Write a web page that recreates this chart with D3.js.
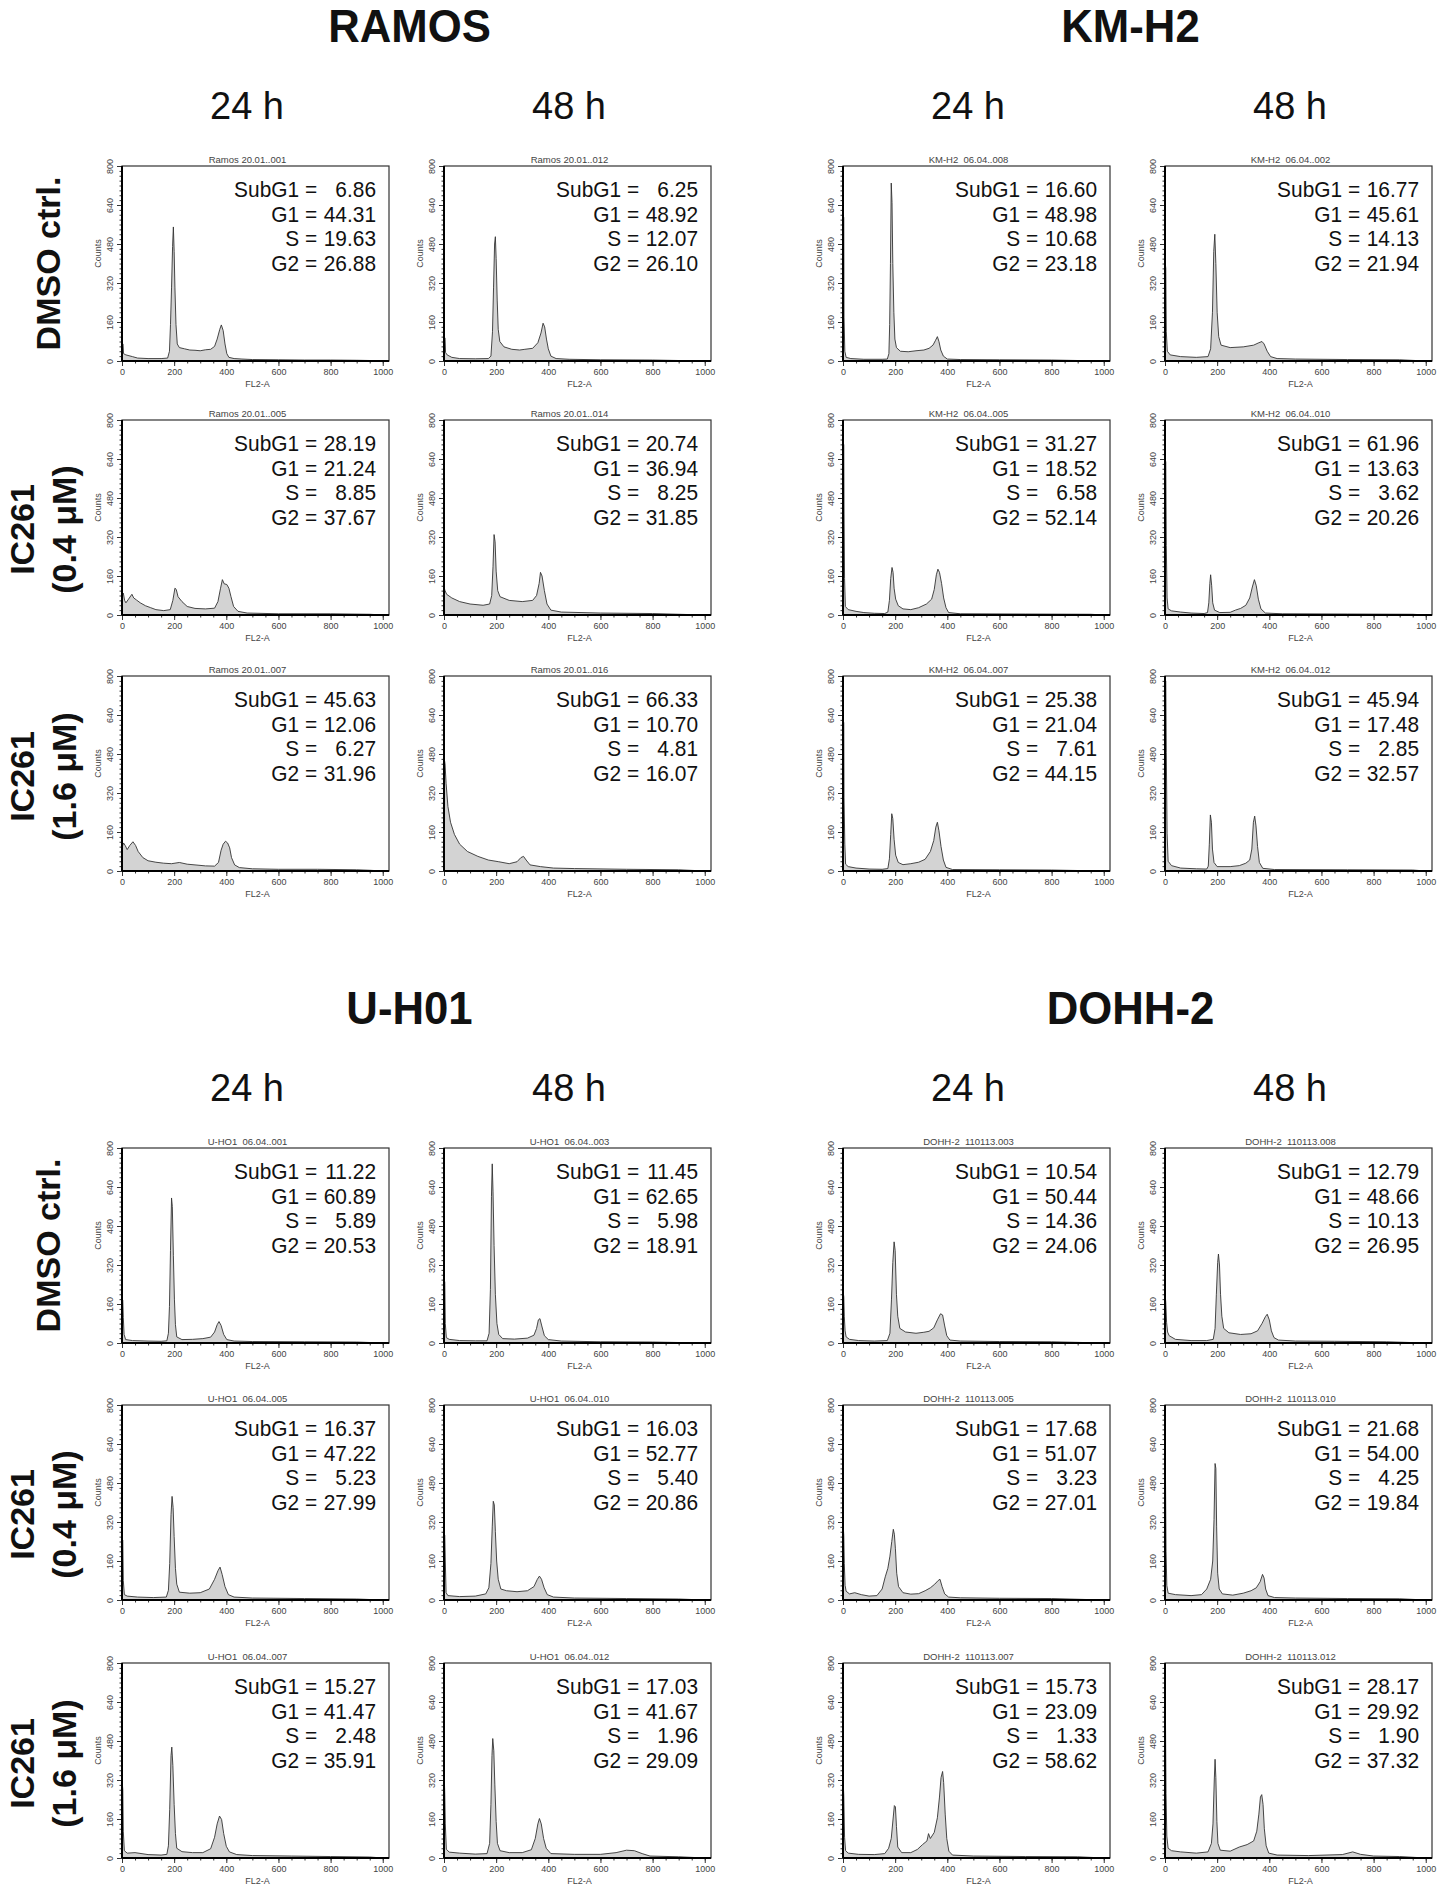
<!DOCTYPE html>
<html>
<head>
<meta charset="utf-8">
<script src="https://cdnjs.cloudflare.com/ajax/libs/d3/7.8.5/d3.min.js"></script>
<style>
  body { margin: 0; background: #fff; }
  text { font-family: "Liberation Sans", Arial, sans-serif; }
</style>
</head>
<body>
<div id="chart"></div>
<script>
// ---- categories / labels ----
const cellLines = ["RAMOS", "KM-H2", "U-H01", "DOHH-2"];
const timePoints = ["24 h", "48 h"];
const treatments = [["DMSO ctrl."], ["IC261", "(0.4 μM)"], ["IC261", "(1.6 μM)"]];
const phaseNames = ["SubG1 =", "G1 =", "S =", "G2 ="];
const xTicks = [0, 200, 400, 600, 800, 1000];
const yTicks = [0, 160, 320, 480, 640, 800];

// sample file names [row][time]
const ramosNames = [["Ramos 20.01..001", "Ramos 20.01..012"], ["Ramos 20.01..005", "Ramos 20.01..014"], ["Ramos 20.01..007", "Ramos 20.01..016"]];
const kmh2Names = [["KM-H2  06.04..008", "KM-H2  06.04..002"], ["KM-H2  06.04..005", "KM-H2  06.04..010"], ["KM-H2  06.04..007", "KM-H2  06.04..012"]];
const uho1Names = [["U-HO1  06.04..001", "U-HO1  06.04..003"], ["U-HO1  06.04..005", "U-HO1  06.04..010"], ["U-HO1  06.04..007", "U-HO1  06.04..012"]];
const dohhNames = [["DOHH-2  110113.003", "DOHH-2  110113.008"], ["DOHH-2  110113.005", "DOHH-2  110113.010"], ["DOHH-2  110113.007", "DOHH-2  110113.012"]];

// phase percentages [row][time] -> SubG1, G1, S, G2
const ramosPhases = [[[6.86, 44.31, 19.63, 26.88], [6.25, 48.92, 12.07, 26.10]],
                     [[28.19, 21.24, 8.85, 37.67], [20.74, 36.94, 8.25, 31.85]],
                     [[45.63, 12.06, 6.27, 31.96], [66.33, 10.70, 4.81, 16.07]]];
const kmh2Phases = [[[16.60, 48.98, 10.68, 23.18], [16.77, 45.61, 14.13, 21.94]],
                    [[31.27, 18.52, 6.58, 52.14], [61.96, 13.63, 3.62, 20.26]],
                    [[25.38, 21.04, 7.61, 44.15], [45.94, 17.48, 2.85, 32.57]]];
const uho1Phases = [[[11.22, 60.89, 5.89, 20.53], [11.45, 62.65, 5.98, 18.91]],
                    [[16.37, 47.22, 5.23, 27.99], [16.03, 52.77, 5.40, 20.86]],
                    [[15.27, 41.47, 2.48, 35.91], [17.03, 41.67, 1.96, 29.09]]];
const dohhPhases = [[[10.54, 50.44, 14.36, 24.06], [12.79, 48.66, 10.13, 26.95]],
                    [[17.68, 51.07, 3.23, 27.01], [21.68, 54.00, 4.25, 19.84]],
                    [[15.73, 23.09, 1.33, 58.62], [28.17, 29.92, 1.90, 37.32]]];

// ---- histograms: [FL2-A channel, counts] ----
const ramosDmso24 = [[0,0],[1,70],[4,70],[6,30],[15,25],[40,18],[60,12],[100,10],[150,10],[175,12],[182,40],[186,150],[190,300],[194,470],[197,550],[200,450],[203,300],[207,150],[212,70],[220,55],[240,50],[260,45],[280,44],[300,42],[320,46],[340,48],[355,60],[365,90],[375,130],[381,148],[388,125],[395,70],[402,30],[410,15],[430,10],[460,8],[500,6],[600,5],[700,4],[800,4],[900,3],[950,2],[1000,0]];
const ramosDmso48 = [[0,0],[1,95],[4,95],[6,35],[12,25],[30,15],[60,10],[120,9],[170,10],[180,20],[186,120],[190,300],[194,480],[197,510],[200,420],[204,250],[208,130],[214,80],[230,58],[260,48],[290,45],[310,48],[340,52],[360,75],[372,115],[380,155],[386,140],[393,90],[400,50],[410,20],[430,10],[480,7],[600,5],[800,4],[1000,0]];
const ramosLow24 = [[0,0],[1,85],[5,90],[10,60],[15,50],[25,65],[38,85],[45,70],[55,62],[70,50],[90,38],[110,30],[130,22],[160,18],[185,22],[195,60],[203,110],[208,105],[215,75],[230,55],[250,35],[280,27],[320,25],[355,28],[368,55],[378,110],[385,145],[392,128],[402,125],[410,110],[418,75],[428,35],[445,15],[480,8],[600,5],[800,5],[950,3],[1000,0]];
const ramosLow48 = [[0,0],[1,110],[4,100],[10,85],[30,70],[60,55],[100,45],[150,40],[175,45],[183,80],[188,200],[192,330],[196,300],[200,180],[206,100],[215,75],[250,60],[300,55],[340,60],[355,80],[365,130],[370,175],[376,160],[385,100],[395,45],[410,20],[450,12],[600,8],[800,6],[1000,0]];
const ramosHigh24 = [[0,0],[1,100],[6,115],[12,105],[20,88],[30,105],[42,120],[52,105],[62,80],[80,55],[100,42],[130,36],[160,32],[190,30],[220,35],[250,28],[280,25],[320,21],[355,20],[370,35],[380,85],[388,110],[397,122],[405,115],[413,95],[420,55],[432,25],[450,14],[500,9],[600,7],[750,7],[900,5],[950,3],[1000,0]];
const ramosHigh48 = [[0,0],[1,460],[4,440],[8,360],[15,265],[25,200],[40,150],[60,110],[90,80],[130,60],[170,45],[210,38],[250,30],[280,38],[295,55],[305,60],[315,45],[330,25],[370,18],[420,12],[500,10],[700,7],[900,5],[1000,0]];

const kmh2Dmso24 = [[0,0],[1,590],[3,590],[4,180],[7,40],[12,15],[30,10],[80,7],[150,7],[170,8],[176,30],[179,150],[182,400],[185,730],[188,650],[191,400],[195,200],[199,90],[205,55],[220,40],[250,38],[280,42],[310,45],[330,52],[345,65],[355,85],[362,100],[368,80],[375,45],[385,20],[400,8],[450,6],[600,5],[800,4],[1000,0]];
const kmh2Dmso48 = [[0,0],[1,400],[3,380],[5,120],[9,40],[20,25],[60,18],[120,15],[165,18],[175,50],[182,200],[187,450],[191,520],[195,400],[200,200],[206,100],[215,65],[250,55],[300,58],[340,65],[360,75],[372,80],[380,70],[392,40],[405,18],[430,10],[500,8],[700,6],[900,5],[1000,0]];
const kmh2Low24 = [[0,0],[1,700],[3,700],[4,435],[6,150],[9,35],[20,22],[50,15],[80,10],[120,7],[160,6],[172,12],[178,60],[183,150],[188,195],[192,175],[196,110],[202,65],[212,38],[230,25],[260,22],[290,30],[320,45],[340,65],[350,105],[358,165],[364,188],[370,175],[378,130],[386,70],[395,30],[405,10],[450,5],[700,4],[950,3],[1000,0]];
const kmh2Low48 = [[0,0],[1,630],[3,630],[5,285],[8,70],[12,25],[25,17],[60,12],[100,8],[150,6],[163,10],[168,50],[172,130],[175,165],[179,120],[183,50],[190,20],[210,10],[250,11],[270,20],[290,27],[310,40],[325,70],[335,115],[343,145],[350,120],[358,65],[368,25],[385,8],[450,5],[700,4],[950,3],[1000,0]];
const kmh2High24 = [[0,0],[1,610],[3,610],[4,300],[7,110],[10,28],[20,18],[50,12],[100,8],[150,7],[172,10],[178,50],[183,150],[187,235],[191,215],[196,130],[202,65],[212,35],[230,26],[260,30],[290,36],[315,48],[335,80],[348,125],[356,180],[362,200],[368,165],[376,100],[385,45],[395,15],[420,6],[600,5],[800,4],[1000,0]];
const kmh2High48 = [[0,0],[1,780],[3,780],[5,485],[8,155],[12,40],[25,22],[60,12],[120,9],[160,8],[166,20],[170,110],[174,230],[178,200],[182,90],[188,35],[200,18],[250,18],[285,22],[310,32],[325,45],[333,90],[339,200],[344,225],[349,185],[355,100],[362,35],[375,11],[420,6],[700,5],[950,4],[1000,0]];

const uho1Dmso24 = [[0,0],[1,180],[3,175],[5,105],[8,35],[14,14],[40,10],[100,8],[150,7],[172,9],[178,40],[182,150],[186,380],[190,595],[193,560],[197,360],[201,180],[205,75],[210,25],[230,14],[270,15],[310,18],[340,24],[355,45],[365,75],[372,88],[380,72],[390,35],[402,14],[430,8],[500,6],[700,5],[900,4],[1000,0]];
const uho1Dmso48 = [[0,0],[1,257],[3,250],[5,80],[9,22],[20,15],[60,10],[120,9],[165,9],[173,40],[178,220],[182,600],[185,735],[188,620],[192,400],[197,200],[203,80],[210,35],[225,18],[270,16],[320,20],[345,32],[355,60],[362,95],[368,100],[375,70],[385,30],[400,14],[450,8],[600,5],[800,4],[1000,0]];
const uho1Low24 = [[0,0],[1,250],[3,245],[5,80],[9,22],[20,16],[60,12],[120,10],[170,12],[178,40],[183,150],[188,350],[192,425],[196,380],[200,260],[205,130],[210,65],[220,32],[260,28],[300,30],[335,45],[355,85],[368,120],[376,135],[384,105],[395,55],[408,22],[430,12],[500,8],[700,6],[900,4],[1000,0]];
const uho1Low48 = [[0,0],[1,270],[3,265],[5,160],[8,30],[15,18],[60,14],[120,16],[160,25],[172,50],[180,150],[185,300],[189,405],[193,390],[197,280],[202,160],[208,85],[218,45],[240,38],[280,34],[320,38],[345,55],[358,85],[366,98],[374,85],[384,50],[396,22],[420,12],[500,8],[700,6],[900,4],[1000,0]];
const uho1High24 = [[0,0],[1,310],[3,280],[5,110],[9,30],[20,20],[50,22],[100,14],[150,12],[172,15],[178,50],[183,200],[188,420],[191,455],[195,380],[200,220],[205,100],[210,40],[230,26],[270,22],[310,22],[340,38],[355,85],[365,140],[374,172],[382,158],[390,100],[400,48],[412,25],[440,14],[500,10],[650,8],[800,6],[950,4],[1000,0]];
const uho1High48 = [[0,0],[1,335],[3,260],[5,140],[9,36],[20,24],[60,20],[120,16],[165,18],[175,60],[180,220],[184,420],[187,490],[191,440],[195,300],[200,150],[205,60],[215,30],[250,22],[300,22],[335,34],[350,80],[360,140],[366,162],[373,140],[382,80],[392,40],[410,18],[500,15],[600,15],[660,22],[700,32],[730,30],[760,18],[790,8],[900,5],[1000,0]];

const dohhDmso24 = [[0,0],[1,205],[3,190],[5,110],[8,50],[12,25],[25,15],[60,10],[120,8],[170,10],[180,40],[186,180],[191,330],[196,415],[200,380],[205,200],[210,110],[218,60],[240,45],[280,40],[310,44],[330,48],[348,62],[362,95],[374,120],[382,115],[390,70],[398,30],[410,12],[450,8],[600,6],[800,5],[1000,0]];
const dohhDmso48 = [[0,0],[1,195],[3,165],[6,85],[10,45],[16,30],[40,15],[100,10],[160,10],[185,15],[192,60],[197,200],[202,330],[205,365],[209,320],[213,200],[218,110],[225,60],[245,42],[290,35],[330,38],[355,50],[372,80],[385,108],[392,118],[400,95],[408,50],[418,22],[435,12],[500,8],[650,7],[850,5],[1000,0]];
const dohhLow24 = [[0,0],[1,300],[3,265],[5,150],[8,60],[12,36],[25,25],[45,30],[70,22],[100,16],[130,18],[150,45],[162,95],[172,130],[180,180],[187,240],[193,290],[197,270],[201,210],[206,110],[213,55],[230,30],[260,24],[290,26],[315,38],[335,50],[352,65],[365,80],[372,85],[380,55],[390,25],[405,12],[450,9],[600,7],[800,6],[1000,0]];
const dohhLow48 = [[0,0],[1,630],[2,490],[4,200],[7,60],[12,28],[40,22],[100,18],[140,22],[160,45],[175,85],[183,160],[188,330],[192,560],[195,540],[198,300],[202,110],[208,45],[220,25],[260,20],[300,28],[330,38],[350,50],[365,75],[374,105],[380,90],[386,45],[395,18],[420,10],[500,8],[700,6],[900,5],[1000,0]];
const dohhHigh24 = [[0,0],[1,305],[3,255],[6,85],[10,30],[20,20],[60,15],[120,14],[160,18],[175,40],[185,80],[192,160],[197,215],[201,210],[205,130],[210,45],[225,22],[260,22],[285,35],[305,55],[322,70],[328,100],[335,80],[350,105],[362,165],[370,250],[376,330],[382,355],[386,310],[392,180],[398,80],[406,28],[420,12],[500,8],[700,6],[900,5],[1000,0]];
const dohhHigh48 = [[0,0],[1,765],[2,540],[4,265],[7,90],[12,40],[25,30],[60,25],[120,20],[165,25],[178,60],[184,140],[189,320],[192,405],[195,330],[199,150],[203,60],[212,32],[250,28],[285,45],[315,55],[340,70],[352,110],[360,180],[366,250],[371,260],[376,220],[381,120],[388,50],[398,20],[430,12],[550,10],[680,14],[720,25],[750,15],[800,8],[900,6],[1000,0]];

const panels = [
  { names: ramosNames, phases: ramosPhases, hist: [[ramosDmso24, ramosDmso48], [ramosLow24, ramosLow48], [ramosHigh24, ramosHigh48]] },
  { names: kmh2Names, phases: kmh2Phases, hist: [[kmh2Dmso24, kmh2Dmso48], [kmh2Low24, kmh2Low48], [kmh2High24, kmh2High48]] },
  { names: uho1Names, phases: uho1Phases, hist: [[uho1Dmso24, uho1Dmso48], [uho1Low24, uho1Low48], [uho1High24, uho1High48]] },
  { names: dohhNames, phases: dohhPhases, hist: [[dohhDmso24, dohhDmso48], [dohhLow24, dohhLow48], [dohhHigh24, dohhHigh48]] }
];

// ---- layout ----
const plotW = 267, plotH = 195;
const colLeft = [[122, 444], [843, 1165]];
const rowTop = [[166, 420, 676], [1148, 1405, 1663]];
const titleY = [42, 1024];
const timeY = [119, 1101];
const labelShift = [0, 12, 3];
const fontStack = "'Liberation Sans', Arial, sans-serif";

const svg = d3.select("#chart").append("svg")
  .attr("width", 1453).attr("height", 1898)
  .style("background", "#fff");

const x = d3.scaleLinear().domain([0, 1024]).range([0, plotW]);
const y = d3.scaleLinear().domain([0, 800]).range([plotH, 0]);
const area = d3.area().x(d => x(d[0])).y0(plotH).y1(d => y(d[1]));
const line = d3.line().x(d => x(d[0])).y(d => y(d[1]));

function drawPlot(g, data, name, phases) {
  g.append("path").datum(data).attr("d", area).attr("fill", "#d3d3d3");
  g.append("path").datum(data).attr("d", line)
    .attr("fill", "none").attr("stroke", "#333").attr("stroke-width", 0.9);

  g.append("rect").attr("width", plotW).attr("height", plotH)
    .attr("fill", "none").attr("stroke", "#333").attr("stroke-width", 1.2);

  // y axis
  g.append("g").call(d3.axisLeft(y).tickValues(d3.range(0, 801, 20)).tickSize(2.5).tickFormat(""))
    .call(a => a.select(".domain").remove())
    .call(a => a.selectAll("line").attr("stroke", "#333"));
  g.append("g").call(d3.axisLeft(y).tickValues(yTicks).tickSize(5).tickFormat(d3.format("d")))
    .call(a => a.select(".domain").remove())
    .call(a => a.selectAll("line").attr("stroke", "#333"))
    .call(a => a.selectAll("text")
      .attr("transform", "rotate(-90)").attr("x", 0).attr("y", -9.5).attr("dy", 0)
      .attr("text-anchor", "middle").attr("font-size", 9).attr("fill", "#444")
      .style("font-family", fontStack));

  // x axis
  const xa = g.append("g").attr("transform", `translate(0,${plotH})`);
  xa.append("g").call(d3.axisBottom(x).tickValues(d3.range(0, 1001, 50)).tickSize(2.5).tickFormat(""))
    .call(a => a.select(".domain").remove())
    .call(a => a.selectAll("line").attr("stroke", "#333"));
  xa.append("g").call(d3.axisBottom(x).tickValues(xTicks).tickSize(5).tickFormat(d3.format("d")))
    .call(a => a.select(".domain").remove())
    .call(a => a.selectAll("line").attr("stroke", "#333"))
    .call(a => a.selectAll("text").attr("y", 7.5).attr("font-size", 9).attr("fill", "#444")
      .style("font-family", fontStack));

  // thick axis lines
  g.append("line").attr("x1", 0).attr("x2", 0).attr("y1", 0).attr("y2", plotH)
    .attr("stroke", "#000").attr("stroke-width", 2);
  g.append("line").attr("x1", 0).attr("x2", plotW).attr("y1", plotH).attr("y2", plotH)
    .attr("stroke", "#000").attr("stroke-width", 2);

  g.append("text").attr("x", plotW / 2 + 2).attr("y", plotH + 26)
    .attr("text-anchor", "middle").attr("font-size", 9).attr("fill", "#444").text("FL2-A");
  g.append("text").attr("transform", `translate(-21,${plotH / 2 - 10}) rotate(-90)`)
    .attr("text-anchor", "middle").attr("font-size", 9).attr("fill", "#444").text("Counts");
  g.append("text").attr("x", plotW / 2 - 8).attr("y", -3.5)
    .attr("text-anchor", "middle").attr("font-size", 9.5).attr("fill", "#444")
    .style("white-space", "pre").text(name);

  // phase percentages ("=" signs aligned)
  const right = plotW - 13;
  phases.forEach((v, i) => {
    const row = g.append("g").attr("transform", `translate(${right},${31 + i * 24.5}) scale(0.95,1)`);
    row.append("text").attr("x", -62).attr("text-anchor", "end")
      .attr("font-size", 22).attr("fill", "#111").text(phaseNames[i]);
    row.append("text").attr("x", 0).attr("text-anchor", "end")
      .attr("font-size", 22).attr("fill", "#111").text(v.toFixed(2));
  });
}

panels.forEach((p, k) => {
  const half = Math.floor(k / 2), side = k % 2;
  const cols = colLeft[side], rows = rowTop[half];

  svg.append("g")
    .attr("transform", `translate(${(cols[0] + cols[1]) / 2 + plotW / 2 - 7},${titleY[half]}) scale(0.93,1)`)
    .append("text").attr("text-anchor", "middle").attr("font-size", 47).attr("font-weight", "bold")
    .attr("fill", "#111").text(cellLines[k]);

  timePoints.forEach((t, j) => {
    svg.append("text").attr("x", cols[j] + 125).attr("y", timeY[half])
      .attr("text-anchor", "middle").attr("font-size", 38).attr("fill", "#111").text(t);
  });

  if (side === 0) {
    treatments.forEach((lbl, r) => {
      const cy = rows[r] + plotH / 2 + labelShift[r];
      const t = svg.append("text").attr("transform", `translate(0,${cy}) rotate(-90)`)
        .attr("text-anchor", "middle").attr("font-size", 34).attr("font-weight", "bold").attr("fill", "#111");
      if (lbl.length === 1) {
        t.append("tspan").attr("x", 0).attr("y", 60).text(lbl[0]);
      } else {
        t.append("tspan").attr("x", 0).attr("y", 34).text(lbl[0]);
        t.append("tspan").attr("x", 0).attr("y", 76).text(lbl[1]);
      }
    });
  }

  p.hist.forEach((rowHists, r) => {
    rowHists.forEach((data, j) => {
      const g = svg.append("g").attr("transform", `translate(${cols[j]},${rows[r]})`);
      drawPlot(g, data, p.names[r][j], p.phases[r][j]);
    });
  });
});
</script>
</body>
</html>
